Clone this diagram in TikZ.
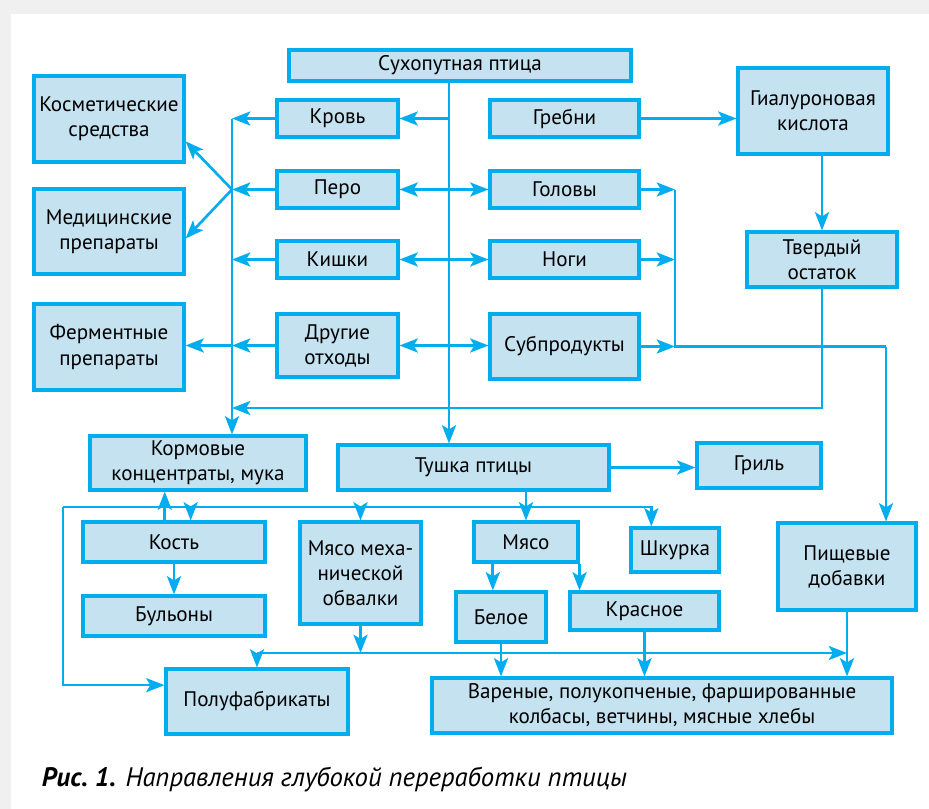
\documentclass[tikz,border=0pt]{standalone}
\usepackage{fontspec}
\setmainfont{PT Sans}
\usepackage{tikz}
\usetikzlibrary{arrows.meta, calc}
\definecolor{boxline}{RGB}{0,174,239}
\definecolor{boxfill}{RGB}{197,226,240}
\definecolor{pagegray}{RGB}{240,240,240}
\newlength\px
\setlength\px{0.025cm}
\tikzstyle{block} = [rectangle, draw=boxline, fill=boxfill, line width=2.2pt, inner sep=0pt, align=center, text centered, font=\fontsize{15}{17.8}\selectfont]
\tikzstyle{line} = [draw=boxline, line width=1.9pt]
\tikzstyle{arrow} = [line, -{Stealth[length=13pt, width=10pt, inset=3pt]}]
\tikzstyle{twoway} = [line, {Stealth[length=13pt, width=10pt, inset=3pt]}-{Stealth[length=13pt, width=10pt, inset=3pt]}]

\begin{document}
\begin{tikzpicture}[x=0.025cm, y=-0.025cm]
        \useasboundingbox (0,0) rectangle (929,809);
        \fill [pagegray] (0,0) rectangle (929,809);
        \fill [white] (11,14) rectangle (929,809);

        \node (bird) [block, minimum width=342\px, minimum height=31\px] at (460,65.5) {Сухопутная птица};
        \node (blood) [block, minimum width=121\px, minimum height=37\px] at (337.5,118.5) {Кровь};
        \node (feather) [block, minimum width=121\px, minimum height=37\px] at (337.5,189.5) {Перо};
        \node (guts) [block, minimum width=121\px, minimum height=37\px] at (337.5,259.5) {Кишки};
        \node (waste) [block, minimum width=121\px, minimum height=63\px] at (337.5,345.5) {Другие\\отходы};
        \node (combs) [block, minimum width=149\px, minimum height=37\px] at (564.5,118.5) {Гребни};
        \node (heads) [block, minimum width=149\px, minimum height=37\px] at (564.5,189.5) {Головы};
        \node (legs) [block, minimum width=149\px, minimum height=37\px] at (564.5,259.5) {Ноги};
        \node (offal) [block, minimum width=149\px, minimum height=65\px] at (564.5,346.5) {Субпродукты};
        \node (hyal) [block, minimum width=150\px, minimum height=86\px] at (813,111) {Гиалуроновая\\кислота};
        \node (residue) [block, minimum width=150\px, minimum height=55\px] at (822,259.5) {Твердый\\остаток};
        \node (cosm) [block, minimum width=150\px, minimum height=86\px] at (109,119) {Косметические\\средства};
        \node (med) [block, minimum width=150\px, minimum height=85\px] at (109,231.5) {Медицинские\\препараты};
        \node (enz) [block, minimum width=150\px, minimum height=86\px] at (109,347) {Ферментные\\препараты};
        \node (feed) [block, minimum width=216\px, minimum height=54\px] at (198,463) {Кормовые\\концентраты, мука};
        \node (carcass) [block, minimum width=271\px, minimum height=45\px] at (473.5,467.5) {Тушка птицы};
        \node (grill) [block, minimum width=124\px, minimum height=45\px] at (759,465.5) {Гриль};
        \node (bone) [block, minimum width=182\px, minimum height=40\px] at (174,542) {Кость};
        \node (broth) [block, minimum width=182\px, minimum height=40\px] at (174,616) {Бульоны};
        \node (mdm) [block, minimum width=121\px, minimum height=102\px] at (360.5,573) {Мясо меха-\\нической\\обвалки};
        \node (meat) [block, minimum width=104\px, minimum height=40\px] at (526,542) {Мясо};
        \node (skin) [block, minimum width=88\px, minimum height=44\px] at (675,550) {Шкурка};
        \node (white) [block, minimum width=90\px, minimum height=50\px] at (501,617) {Белое};
        \node (red) [block, minimum width=149\px, minimum height=38\px] at (644.5,611) {Красное};
        \node (additives) [block, minimum width=138\px, minimum height=87\px] at (847,566.5) {Пищевые\\добавки};
        \node (semi) [block, minimum width=182\px, minimum height=65\px] at (257,701.5) {Полуфабрикаты};
        \node (sausage) [block, minimum width=460\px, minimum height=55\px] at (662,705.5) {Вареные, полукопченые, фаршированные\\колбасы, ветчины, мясные хлебы};
        \node (caption) [anchor=base west, font=\fontsize{19}{22}\selectfont\itshape] at (37,786) {{\bfseries Рис.~1.} Направления глубокой переработки птицы};

        % helper lines
        \coordinate (spine) at (449,0);
        \coordinate (lbus) at (232,0);
        \coordinate (rbus) at (675,0);
        \coordinate (rside) at (886,0);
        \coordinate (backY) at (0,408);
        \coordinate (distY) at (0,507);
        \coordinate (mixY) at (0,653);
        \coordinate (loopX) at (63,0);
        \coordinate (skintop) at ($(skin.north west)!0.24!(skin.north east)$);
        \coordinate (semiin) at ($(semi.north west)!0.26!(semi.south west)$);
        \coordinate (bonein) at ($(bone.north west)!0.59!(bone.north east)$);
        \coordinate (boneout) at ($(bone.north west)!0.45!(bone.north east)$);
        \coordinate (meatout) at ($(meat.south west)!0.19!(meat.south east)$);

        % from the bird
        \draw [arrow] (bird.south -| spine) -- (carcass.north -| spine);
        \draw [arrow] (spine |- blood) -- (blood.east);
        \draw [twoway] (feather.east) -- (heads.west);
        \draw [twoway] (guts.east) -- (legs.west);
        \draw [twoway] (waste.east) -- (waste.east -| offal.west);

        % waste side
        \draw [arrow] (lbus |- blood) -- (lbus |- feed.north);
        \draw [arrow] (blood.west) -- (lbus |- blood);
        \draw [arrow] (feather.west) -- (lbus |- feather);
        \draw [arrow] (guts.west) -- (lbus |- guts);
        \draw [arrow] (waste.west) -- (lbus |- waste);
        \draw [arrow] (lbus |- feather) -- ($(cosm.south east)!0.25!(cosm.north east)$);
        \draw [arrow] (lbus |- feather) -- ($(med.north east)!0.58!(med.south east)$);
        \draw [arrow] (lbus |- waste) -- (enz.east |- waste);
        \draw [arrow] (residue.south) |- (lbus |- backY);

        % by-products side
        \draw [arrow] (combs.east) -- (combs.east -| hyal.west);
        \draw [arrow] (hyal.south -| residue.north) -- (residue.north);
        \draw [arrow] (heads.east) -- (rbus |- heads);
        \draw [arrow] (legs.east) -- (rbus |- legs);
        \draw [arrow] (offal.east) -- (rbus |- offal);
        \draw [line] (rbus |- heads) -- (rbus |- offal) -- (rside |- offal);
        \draw [arrow] (rside |- offal) -- (rside |- additives.north);

        % carcass
        \draw [arrow] (carcass.east) -- (carcass.east -| grill.west);
        \draw [arrow] (meat.north |- carcass.south) -- (meat.north);
        \draw [arrow] (loopX |- distY) -| (skintop);
        \draw [arrow] (loopX |- distY) |- (semiin);
        \draw [arrow] (bonein |- distY) -- (bonein);
        \draw [arrow] (mdm.north |- distY) -- (mdm.north);
        \draw [arrow] (boneout) -- (boneout |- feed.south);
        \draw [arrow] (bone.south) -- (broth.north);
        \draw [arrow] (meatout) -- (meatout |- white.north);
        \draw [arrow] (meat.south east) -- (meat.south east |- red.north);

        % products
        \draw [arrow] (mdm.south) -- (mdm.south |- mixY);
        \draw [arrow] (semi.north |- mixY) -- (semi.north);
        \draw [arrow] (semi.north |- mixY) -- (additives.south |- mixY);
        \draw [arrow] (additives.south) -- (additives.south |- sausage.north);
        \draw [arrow] (white.south) -- (white.south |- sausage.north);
        \draw [arrow] (red.south) -- (red.south |- sausage.north);
    \end{tikzpicture}
\end{document}
